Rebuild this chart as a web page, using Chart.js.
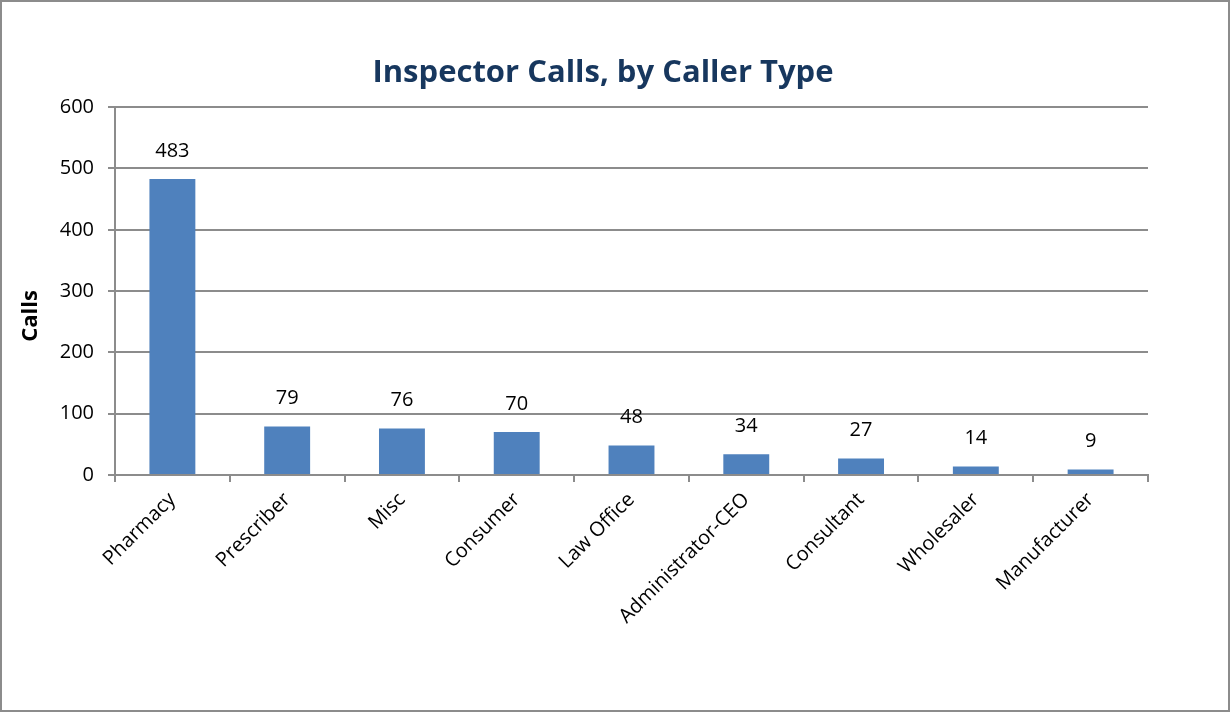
<!DOCTYPE html>
<html>
<head>
<meta charset="utf-8">
<script src="https://cdn.jsdelivr.net/npm/chart.js@4.4.1/dist/chart.umd.min.js"></script>
<style>
    body { margin: 0; background: #ffffff; }
    #box { width: 1230px; height: 712px; }
</style>
</head>
<body>
<div id="box"><canvas id="graphique_appels"></canvas></div>
<script>
//------------------------ DONNEES ------------------------
const categories = ['Pharmacy', 'Prescriber', 'Misc', 'Consumer', 'Law Office', 'Administrator-CEO', 'Consultant', 'Wholesaler', 'Manufacturer'];
const appels = [483, 79, 76, 70, 48, 34, 27, 14, 9];
const ticks_y = [0, 100, 200, 300, 400, 500, 600];

const police = "'Open Sans', 'Liberation Sans', sans-serif";
const gris = '#8c8c8c';

//------------------------ PLUGIN : étiquettes + cadre + titre axe Y ------------------------
const extras = {
    id: 'extras',
    afterDatasetsDraw(chart) {
        const ctx = chart.ctx;
        const meta = chart.getDatasetMeta(0);
        ctx.save();
        ctx.fillStyle = '#000000';
        ctx.font = '20px ' + police;
        ctx.textAlign = 'center';
        ctx.textBaseline = 'middle';
        meta.data.forEach((bar, i) => {
            ctx.fillText(appels[i], bar.x, bar.y - 28); // au dessus de la barre
        });

        // titre de l'axe Y
        ctx.translate(31, 316);
        ctx.rotate(-Math.PI / 2);
        ctx.font = 'bold 22px ' + police;
        ctx.fillText('Calls', 0, 0);
        ctx.restore();

        // cadre autour du graphique
        ctx.save();
        ctx.strokeStyle = gris;
        ctx.lineWidth = 2;
        ctx.strokeRect(1, 1, chart.width - 2, chart.height - 2);
        ctx.restore();
    }
};

const ctx = document.getElementById('graphique_appels').getContext('2d');

new Chart(ctx, {
    type: 'bar',
    plugins: [extras],
    data: {
        labels: categories,
        datasets: [{
            data: appels,
            backgroundColor: '#4f81bd',
            borderWidth: 0,
            barPercentage: 0.4,
            categoryPercentage: 1
        }]
    },
    options: {
        responsive: true,
        maintainAspectRatio: false,
        animation: false,
        layout: {
            padding: { left: 58, right: 82, top: 0, bottom: 0 }
        },
        scales: {
            x: {
                afterFit: function (scale) { scale.height = 237; },
                grid: {
                    offset: true,
                    drawOnChartArea: false,
                    drawTicks: true,
                    tickLength: 7,
                    color: gris,
                    lineWidth: 2
                },
                border: { color: gris, width: 2 },
                ticks: {
                    color: '#000000',
                    padding: 6,
                    font: { family: police, size: 20 },
                    maxRotation: 45,
                    minRotation: 45,
                    autoSkip: false
                }
            },
            y: {
                min: 0,
                max: 600,
                afterFit: function (scale) { scale.width = 57; },
                afterBuildTicks: function (scale) {
                    scale.ticks = ticks_y.map(v => ({ value: v }));
                },
                grid: {
                    color: gris,
                    lineWidth: 2,
                    tickLength: 7
                },
                border: { color: gris, width: 2 },
                ticks: {
                    color: '#000000',
                    padding: 14,
                    font: { family: police, size: 20 }
                }
            }
        },
        plugins: {
            legend: { display: false },
            tooltip: { enabled: false },
            title: {
                display: true,
                text: 'Inspector Calls, by Caller Type',
                color: '#17375e',
                font: { family: police, size: 31, weight: 'bold', lineHeight: 1.2 },
                padding: { top: 55, bottom: 15 }
            }
        }
    }
});
</script>
</body>
</html>
